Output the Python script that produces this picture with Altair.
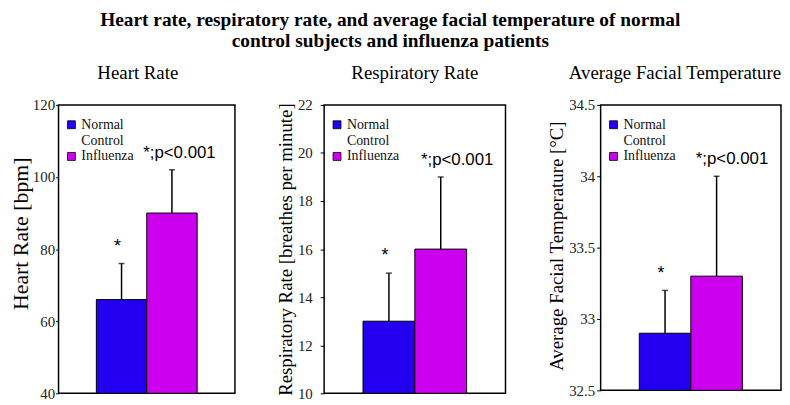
import altair as alt
import pandas as pd

# ---------------- data ----------------
groups = ["Normal Control", "Influenza"]
bar_colors = ["#2400F0", "#CC00EE"]
annotations = ["*", "*;p<0.001"]

main_title = "Heart rate, respiratory rate, and average facial temperature of normal"
main_title_2 = "control subjects and influenza patients"

panel_titles = ["Heart Rate", "Respiratory Rate", "Average Facial Temperature"]
y_titles = ["Heart Rate [bpm]", "Respiratory Rate [breathes per minute]",
            "Average Facial Temperature [°C]"]

hr_mean = [66, 90]
hr_sd = [10, 12]
rr_mean = [13, 16]
rr_sd = [2, 3]
ft_mean = [32.9, 33.3]
ft_sd = [0.3, 0.7]

y_domains = [[40, 120], [10, 22], [32.5, 34.5]]
y_ticks = [[40, 60, 80, 100, 120],
           [10, 12, 14, 16, 18, 20, 22],
           [32.5, 33, 33.5, 34, 34.5]]

means = [hr_mean, rr_mean, ft_mean]
sds = [hr_sd, rr_sd, ft_sd]

# ---------------- style ----------------
SERIF = "Liberation Serif"
SANS = "Liberation Sans"
widths = [178, 183, 182]
heights = [291, 291, 288]
ytitle_sizes = [22, 19, 19]
ytitle_shift = [16, 0, 2]
title_pads = [0, 2, 2]
label_pads = [1, 8, 2]
tick_sizes = [3, 4, 4]
p_dx = [-29, -20, -21]
title_anchor = ["middle", "middle", "end"]
title_dx = [-9, 0, 0]


def panel(i):
    df = pd.DataFrame({
        "group": groups,
        "mean": means[i],
        "top": [m + s for m, s in zip(means[i], sds[i])],
        "base": [y_domains[i][0]] * 2,
        "label": annotations,
    })
    base = alt.Chart(df)
    x = alt.X("group:N", sort=groups, axis=None,
              scale=alt.Scale(paddingInner=0, paddingOuter=0.75))
    yscale = alt.Scale(domain=y_domains[i], nice=False, zero=False)
    yaxis = alt.Axis(values=y_ticks[i], format=".4~r", grid=False, domain=False,
                     title=y_titles[i], titleFont=SERIF, titleFontSize=ytitle_sizes[i],
                     titleFontWeight="normal", titleColor="black",
                     titlePadding=title_pads[i],
                     titleY=heights[i] / 2 - ytitle_shift[i],
                     labelFont=SERIF, labelFontSize=15, labelColor="#222222",
                     labelPadding=label_pads[i], tickSize=tick_sizes[i],
                     tickColor="black")

    bars = base.mark_bar(stroke="black", strokeWidth=1).encode(
        x=x,
        y=alt.Y("mean:Q", scale=yscale, axis=yaxis),
        y2="base:Q",
        color=alt.Color("group:N",
                        scale=alt.Scale(domain=groups, range=bar_colors),
                        legend=alt.Legend(
                            title=None, orient="none", legendX=6, legendY=13,
                            symbolType="square", symbolSize=64,
                            symbolStrokeColor="black", symbolStrokeWidth=0.8,
                            labelFont=SERIF, labelFontSize=14,
                            labelColor="#111111",
                            labelOffset=3, rowPadding=2,
                            labelExpr="split(datum.label, ' ')")),
    )
    err = base.mark_rule(color="black", strokeWidth=1.5).encode(
        x=x, y=alt.Y("mean:Q", scale=yscale), y2="top:Q")
    cap = base.mark_tick(color="black", thickness=1.5, size=6, orient="horizontal").encode(
        x=x, y=alt.Y("top:Q", scale=yscale))
    star = base.transform_filter(alt.datum.group == groups[0]).mark_text(
        font=SANS, fontSize=18, baseline="alphabetic", dy=-12, dx=-4, color="black"
    ).encode(x=x, y=alt.Y("top:Q", scale=yscale), text="label:N")
    ptxt = base.transform_filter(alt.datum.group == groups[1]).mark_text(
        font=SANS, fontSize=17, baseline="alphabetic", align="left", dy=-12,
        dx=p_dx[i], color="black"
    ).encode(x=x, y=alt.Y("top:Q", scale=yscale), text="label:N")

    return alt.layer(bars, err, cap, star, ptxt).properties(
        width=widths[i], height=heights[i],
        title=alt.TitleParams(panel_titles[i], font=SERIF, fontSize=19,
                              fontWeight="normal", color="black", offset=15,
                              anchor=title_anchor[i], dx=title_dx[i]),
    ).resolve_scale(color="independent")


chart = alt.hconcat(panel(0), panel(1), panel(2), spacing=40).resolve_scale(
    color="independent"
).resolve_legend(color="independent").properties(
    title=alt.TitleParams(main_title, subtitle=main_title_2,
                          font=SERIF, fontSize=19.5, fontWeight="bold", color="black",
                          subtitleFont=SERIF, subtitleFontSize=19.5,
                          subtitleFontWeight="bold", subtitleColor="black",
                          subtitlePadding=2, anchor="middle", dx=-5, offset=12),
    padding={"left": 0, "top": 0, "right": 0, "bottom": 0},
).configure(background="white").configure_view(
    stroke="black", strokeWidth=1.5
)

chart.save("out.html", embed_options={"renderer": "svg", "actions": False})
